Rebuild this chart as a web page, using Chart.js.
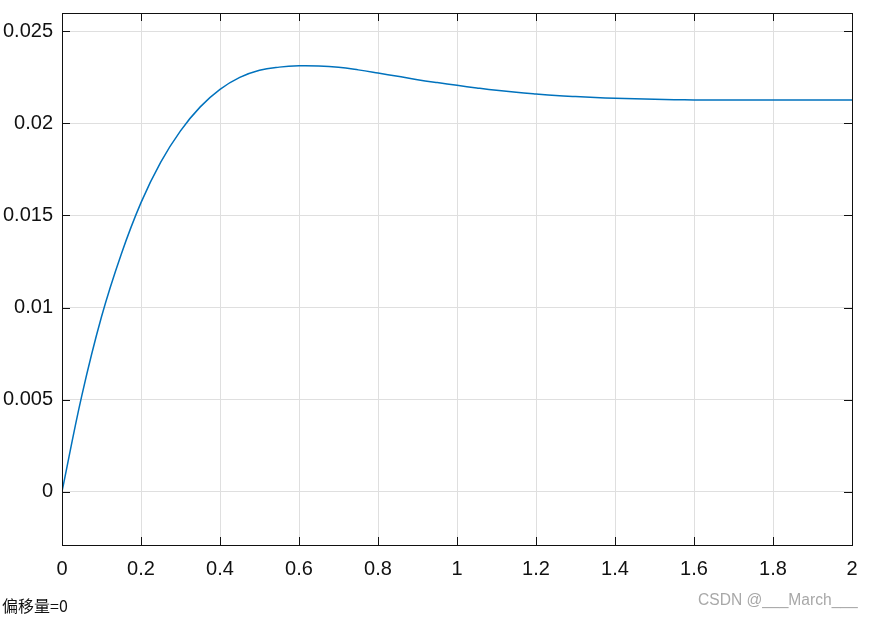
<!DOCTYPE html>
<html>
<head>
<meta charset="utf-8">
<script src="https://cdn.jsdelivr.net/npm/chart.js@4.4.1/dist/chart.umd.min.js"></script>
<style>
  html, body { margin: 0; padding: 0; background: #fff; }
  #wrap { position: relative; width: 875px; height: 619px; }
  #chart { display: block; }
  .note { position: absolute; white-space: nowrap; }
  #offset { left: 2px; top: 593px; font: 16px "Noto Sans CJK SC", sans-serif; color: #111; }
  #mark { left: 698px; top: 591px; font: 15.6px "Liberation Sans", Arial, sans-serif; color: #a8a8a8; }
</style>
</head>
<body>
<div id="wrap">
  <canvas id="chart" width="875" height="619"></canvas>
  <div class="note" id="offset">偏移量=0</div>
  <div class="note" id="mark">CSDN @___March___</div>
</div>
<script>
// time (s) and response
const times = [0, 0.05, 0.1, 0.15, 0.2, 0.25, 0.3, 0.35, 0.4, 0.45, 0.5, 0.55, 0.6, 0.65, 0.7, 0.75,
  0.8, 0.85, 0.9, 0.95, 1.0, 1.05, 1.1, 1.15, 1.2, 1.25, 1.3, 1.35, 1.4, 1.45, 1.5, 1.55, 1.6, 1.65,
  1.7, 1.75, 1.8, 1.85, 1.9, 1.95, 2.0]
const response = [0, 0.0052, 0.0095, 0.0129, 0.0157, 0.0179, 0.0196, 0.0209, 0.02185, 0.0225,
  0.02289, 0.02306, 0.02313, 0.02312, 0.02305, 0.02291, 0.02274, 0.02256, 0.02238, 0.02222, 0.02207,
  0.02193, 0.0218, 0.02169, 0.0216, 0.02152, 0.02146, 0.02141, 0.02137, 0.02134, 0.02131, 0.02129,
  0.02128, 0.02127, 0.02127, 0.02127, 0.02127, 0.02127, 0.02127, 0.02127, 0.02127]

const xTicks = [0, 0.2, 0.4, 0.6, 0.8, 1, 1.2, 1.4, 1.6, 1.8, 2]
const yTicks = [0, 0.005, 0.01, 0.015, 0.02, 0.025]

const axisColor = '#111'
const gridColor = '#dfdfdf'
const tickFont = {family: '"Liberation Sans", Arial, sans-serif', size: 20}

// box around the plot plus short inward tick marks on all four sides
let boxTicks = {
  id: 'boxTicks',
  afterDatasetsDraw(chart) {
    let ctx = chart.ctx
    let a = chart.chartArea
    let xs = chart.scales.x, ys = chart.scales.y
    ctx.save()
    ctx.strokeStyle = axisColor
    ctx.lineWidth = 1
    ctx.beginPath()
    xTicks.forEach(v => {
      let px = Math.round(xs.getPixelForValue(v)) + 0.5
      ctx.moveTo(px, a.bottom); ctx.lineTo(px, a.bottom - 8)
      ctx.moveTo(px, a.top); ctx.lineTo(px, a.top + 8)
    })
    yTicks.forEach(v => {
      let py = Math.round(ys.getPixelForValue(v)) + 0.5
      ctx.moveTo(a.left, py); ctx.lineTo(a.left + 8, py)
      ctx.moveTo(a.right, py); ctx.lineTo(a.right - 8, py)
    })
    ctx.stroke()
    ctx.strokeRect(Math.round(a.left) + 0.5, Math.round(a.top) + 0.5,
      Math.round(a.right - a.left), Math.round(a.bottom - a.top))
    ctx.restore()
  }
}

let ctx = document.getElementById('chart').getContext('2d')
let chart = new Chart(ctx, {
  type: 'line',
  data: {
    datasets: [{
      data: times.map((t, i) => ({x: t, y: response[i]})),
      borderColor: '#0072BD',
      borderWidth: 1.5,
      pointRadius: 0,
      tension: 0.4,
      fill: false
    }]
  },
  options: {
    responsive: false,
    animation: false,
    devicePixelRatio: 1,
    layout: {padding: {left: 0, right: 23, top: 13, bottom: 0}},
    plugins: {legend: {display: false}, tooltip: {enabled: false}},
    scales: {
      x: {
        type: 'linear',
        min: 0,
        max: 2,
        afterBuildTicks: scale => { scale.ticks = xTicks.map(v => ({value: v})) },
        afterFit: scale => {
          scale.height = 74
          scale.paddingLeft = 0
          scale.paddingRight = 0
        },
        ticks: {
          color: axisColor,
          font: tickFont,
          padding: 12,
          maxRotation: 0,
          callback: v => String(+v.toFixed(2))
        },
        grid: {color: gridColor, drawTicks: false},
        border: {display: false}
      },
      y: {
        type: 'linear',
        min: -0.0029,
        max: 0.026,
        afterBuildTicks: scale => { scale.ticks = yTicks.map(v => ({value: v})) },
        afterFit: scale => {
          scale.width = 62
          scale.paddingTop = 0
          scale.paddingBottom = 0
        },
        ticks: {
          color: axisColor,
          font: tickFont,
          padding: 9,
          callback: v => String(+v.toFixed(3))
        },
        grid: {color: gridColor, drawTicks: false},
        border: {display: false}
      }
    }
  },
  plugins: [boxTicks]
})
</script>
</body>
</html>
